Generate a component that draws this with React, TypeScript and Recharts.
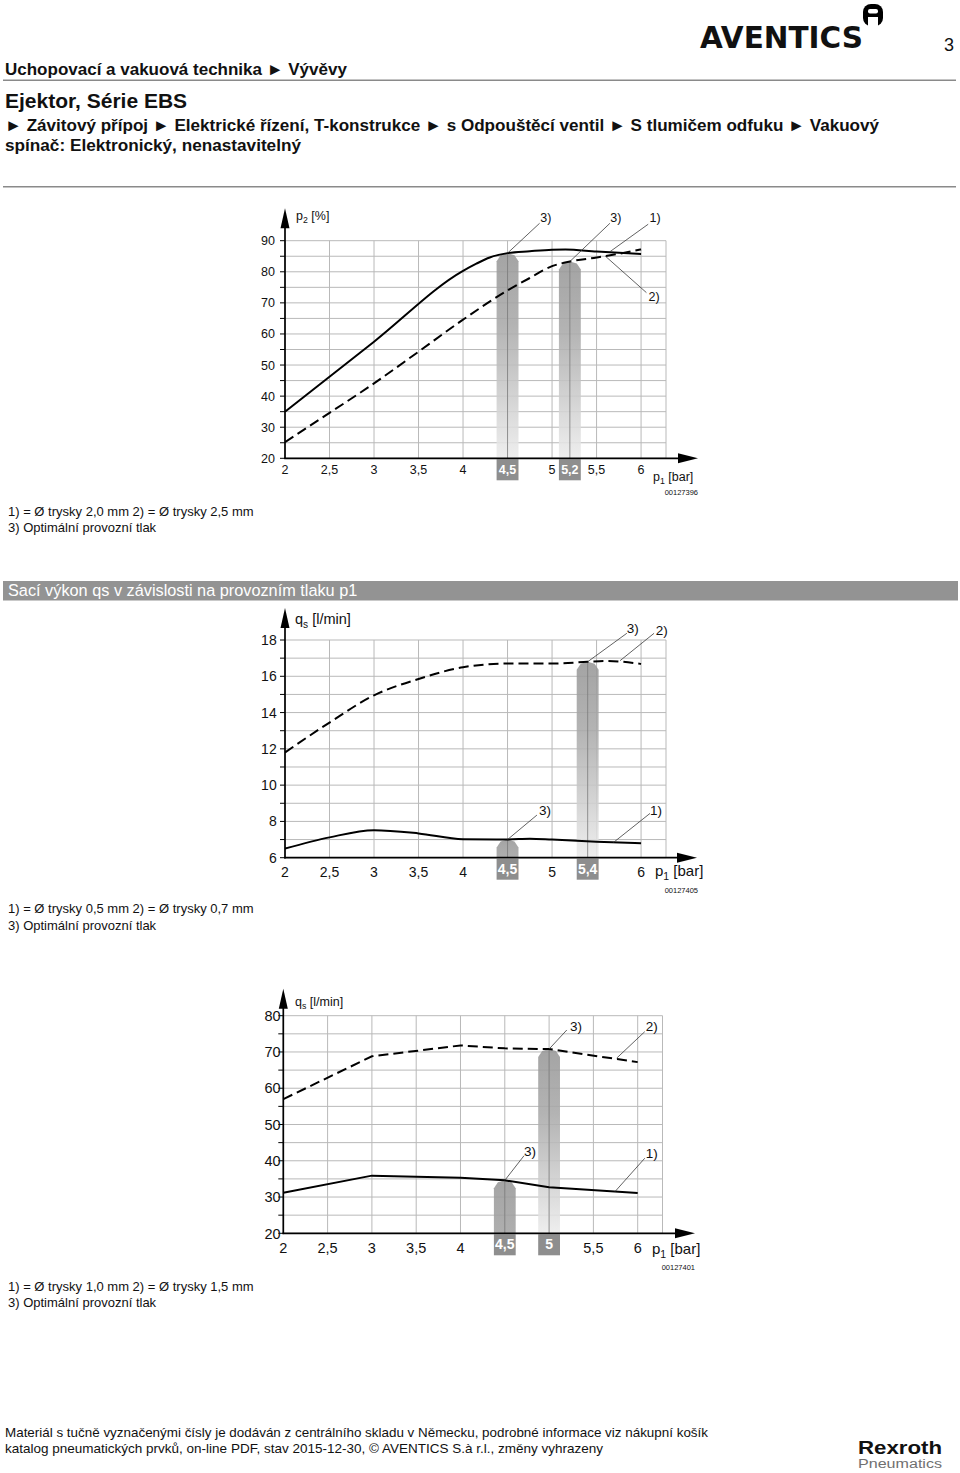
import React from 'react';
import { ComposedChart, Line, XAxis, YAxis, CartesianGrid, ReferenceLine, ReferenceArea, ReferenceDot } from 'recharts';

const FONT = "'Liberation Sans', Arial, Helvetica, sans-serif";

// ---------- Chart 1: p2 [%] vs p1 [bar] ----------
const c1XTicks = [2, 2.5, 3, 3.5, 4, 4.5, 5, 5.5, 6, 6.28];
const c1YTicks = [20, 25, 30, 35, 40, 45, 50, 55, 60, 65, 70, 75, 80, 85, 90];
const c1SolidX = [2, 3, 4, 4.15, 4.3, 4.5, 4.75, 5, 5.15, 5.5, 6];
const c1SolidY = [35, 57.5, 80.3, 82.6, 84.6, 86.0, 86.6, 87.1, 87.2, 86.5, 85.7];
const c1DashX = [2, 2.5, 3, 3.5, 4, 4.5, 4.75, 5, 5.2, 5.5, 5.75, 6];
const c1DashY = [25.2, 34.6, 44.1, 54.3, 64.6, 74, 78, 81.8, 83.3, 84.6, 85.8, 87.2];
const c1OptX = [4.5, 5.2];
const c1OptY = [86, 83.3];
const c1OptLabels = ['4,5', '5,2'];
const c1CallText = ['3)', '3)', '1)', '2)'];
const c1CallTX = [4.93, 5.716, 6.157, 6.146];
const c1CallTY = [97.3, 97.3, 97.3, 71.9];
const c1CallFX = [4.86, 5.65, 6.08, 6.06];
const c1CallFY = [95.6, 95.6, 95.3, 73.3];
const c1CallEX = [4.5, 5.2, 5.652, 5.596];
const c1CallEY = [86, 83.3, 86.5, 85.1];

// ---------- Chart 2: qs [l/min], nozzles 0,5 / 0,7 mm ----------
const c2XTicks = [2, 2.5, 3, 3.5, 4, 4.5, 5, 5.5, 6, 6.28];
const c2YTicks = [6, 7, 8, 9, 10, 11, 12, 13, 14, 15, 16, 17, 18];
const c2SolidX = [2, 2.5, 3, 3.5, 4, 4.5, 4.75, 5, 5.5, 6];
const c2SolidY = [6.5, 7.12, 7.52, 7.34, 7.02, 7.0, 7.05, 7.0, 6.88, 6.8];
const c2DashX = [2, 2.5, 3, 3.5, 4, 4.5, 5, 5.4, 5.6, 6];
const c2DashY = [11.8, 13.45, 14.95, 15.85, 16.5, 16.7, 16.7, 16.8, 16.85, 16.68];
const c2OptX = [4.5, 5.4];
const c2OptY = [7.0, 16.8];
const c2OptLabels = ['4,5', '5,4'];
const c2CallText = ['3)', '2)', '3)', '1)'];
const c2CallTX = [5.907, 6.233, 4.92, 6.168];
const c2CallTY = [18.66, 18.55, 8.58, 8.58];
const c2CallFX = [5.84, 6.146, 4.83, 6.1];
const c2CallFY = [18.37, 18.37, 8.35, 8.44];
const c2CallEX = [5.4, 5.764, 4.5, 5.69];
const c2CallEY = [16.8, 16.86, 7.0, 6.84];

// ---------- Chart 3: qs [l/min], nozzles 1,0 / 1,5 mm ----------
const c3XTicks = [2, 2.5, 3, 3.5, 4, 4.5, 5, 5.5, 6, 6.28];
const c3YTicks = [20, 25, 30, 35, 40, 45, 50, 55, 60, 65, 70, 75, 80];
const c3SolidX = [2, 3, 4, 4.5, 5, 6];
const c3SolidY = [31.2, 35.9, 35.3, 34.6, 32.7, 31.1];
const c3DashX = [2, 3, 4, 4.5, 5, 6];
const c3DashY = [57, 68.8, 71.8, 71.0, 70.8, 67.2];
const c3OptX = [4.5, 5];
const c3OptY = [34.6, 70.8];
const c3OptLabels = ['4,5', '5'];
const c3CallText = ['3)', '2)', '3)', '1)'];
const c3CallTX = [5.304, 6.158, 4.784, 6.158];
const c3CallTY = [76.97, 76.97, 42.5, 42.06];
const c3CallFX = [5.2, 6.08, 4.717, 6.08];
const c3CallFY = [76.06, 75.6, 41.4, 40.7];
const c3CallEX = [5, 5.763, 4.5, 5.744];
const c3CallEY = [70.8, 68.3, 34.6, 31.5];

type Pt = { p1: number; v: number };
const zip = (xs: number[], ys: number[]): Pt[] => xs.map((p1, i) => ({ p1, v: ys[i] }));

const fmt = (v: number) => String(v).replace('.', ',');

const makeXTick = (hidden: number[], fs: number, dy: number) => (p: any) => {
  const v = p.payload.value;
  if (hidden.some((h) => Math.abs(h - v) < 1e-6)) return <g />;
  return (
    <text x={p.x} y={p.y + dy} textAnchor="middle" fontSize={fs} fontFamily={FONT} fill="#111">
      {fmt(v)}
    </text>
  );
};

const makeYTick = (step: number, fs: number, gap: number) => (p: any) => {
  const v = p.payload.value;
  if (Math.abs(v % step) > 1e-6) return <g />;
  return (
    <text x={p.x - gap} y={p.y} dy="0.36em" textAnchor="end" fontSize={fs} fontFamily={FONT} fill="#111">
      {v}
    </text>
  );
};

const makeColumn = (label: string, gid: string, fs: number) => (p: any) => {
  const { x, y, width, height } = p;
  const cx = x + width / 2;
  const tall = height > 80;
  const d = `M${x},${y + 8} L${x + 4},${y + 2} L${cx},${y} L${x + width - 4},${y + 2} L${x + width},${y + 8} L${x + width},${y + height} L${x},${y + height} Z`;
  return (
    <g>
      <defs>
        <linearGradient id={gid} x1="0" y1="0" x2="0" y2="1">
          <stop offset="0" stopColor="#979797" />
          <stop offset="0.35" stopColor={tall ? '#a9a9a9' : '#9c9c9c'} />
          <stop offset="1" stopColor={tall ? '#ececec' : '#a3a3a3'} />
        </linearGradient>
      </defs>
      <path d={d} fill={`url(#${gid})`} fillOpacity={0.88} />
      <line x1={cx} y1={y} x2={cx} y2={y + height} stroke="#7c7c7c" strokeWidth={0.8} />
      <rect x={x} y={y + height + 1} width={width} height={21} fill="#8e8e8e" />
      <text x={cx} y={y + height + 16} textAnchor="middle" fill="#fff" fontWeight="bold" fontSize={fs} fontFamily={FONT}>
        {label}
      </text>
    </g>
  );
};

const makeText = (t: string, fs: number) => (p: any) => (
  <text x={p.cx} y={p.cy} textAnchor="middle" dominantBaseline="central" fontSize={fs} fontFamily={FONT} fill="#111">
    {t}
  </text>
);

const makeYArrow = (ext: number) => (p: any) => {
  const x = p.x1;
  const bottom = Math.max(p.y1, p.y2);
  const top = Math.min(p.y1, p.y2) - ext;
  return (
    <g>
      <line x1={x} y1={bottom + 0.8} x2={x} y2={top + 12} stroke="#000" strokeWidth={1.7} />
      <polygon points={`${x},${top} ${x - 4.5},${top + 20} ${x + 4.5},${top + 20}`} fill="#000" />
    </g>
  );
};

const makeXArrow = (ext: number) => (p: any) => {
  const y = p.y1;
  const left = Math.min(p.x1, p.x2);
  const right = Math.max(p.x1, p.x2) + ext;
  return (
    <g>
      <line x1={left - 0.8} y1={y} x2={right - 12} y2={y} stroke="#000" strokeWidth={1.7} />
      <polygon points={`${right},${y} ${right - 20},${y - 5} ${right - 20},${y + 5}`} fill="#000" />
    </g>
  );
};

interface ChartCfg {
  id: string;
  left: number;
  top: number;
  width: number;
  height: number;
  margin: { top: number; right: number; bottom: number; left: number };
  yAxisWidth: number;
  xAxisHeight: number;
  xMax: number;
  xTicks: number[];
  hiddenX: number[];
  yMin: number;
  yMax: number;
  yTicks: number[];
  yStep: number;
  solid: Pt[];
  dashed: Pt[];
  curve: 'monotone' | 'linear';
  optX: number[];
  optY: number[];
  optLabels: string[];
  colHalf: number;
  callText: string[];
  callTX: number[];
  callTY: number[];
  callFX: number[];
  callFY: number[];
  callEX: number[];
  callEY: number[];
  tickFont: number;
  yLabelGap: number;
  xLabelDy: number;
  boxFont: number;
  callFont: number;
  yArrowExt: number;
  xArrowExt: number;
}

function PerfChart(c: ChartCfg) {
  return (
    <div style={{ position: 'absolute', left: c.left, top: c.top, width: c.width, height: c.height }}>
      <ComposedChart width={c.width} height={c.height} margin={c.margin}>
        <CartesianGrid stroke="#b9b9b9" strokeWidth={1} />
        <XAxis
          type="number"
          dataKey="p1"
          domain={[2, c.xMax]}
          ticks={c.xTicks}
          interval={0}
          allowDataOverflow
          axisLine={false}
          tickLine={false}
          tickSize={0}
          tickMargin={0}
          height={c.xAxisHeight}
          tick={makeXTick(c.hiddenX, c.tickFont, c.xLabelDy)}
        />
        <YAxis
          type="number"
          domain={[c.yMin, c.yMax]}
          ticks={c.yTicks}
          interval={0}
          allowDataOverflow
          width={c.yAxisWidth}
          axisLine={false}
          tickLine={{ stroke: '#000', strokeWidth: 1 }}
          tickSize={5}
          tickMargin={0}
          tick={makeYTick(c.yStep, c.tickFont, c.yLabelGap)}
        />
        {c.optX.map((ox, i) => (
          <ReferenceArea
            key={`col${i}`}
            x1={ox - c.colHalf}
            x2={ox + c.colHalf}
            y1={c.yMin}
            y2={c.optY[i]}
            ifOverflow="visible"
            shape={makeColumn(c.optLabels[i], `${c.id}-col-${i}`, c.boxFont)}
          />
        ))}
        <Line
          data={c.dashed}
          dataKey="v"
          type={c.curve}
          stroke="#000"
          strokeWidth={2}
          strokeDasharray="10 5"
          dot={false}
          activeDot={false}
          isAnimationActive={false}
        />
        <Line
          data={c.solid}
          dataKey="v"
          type={c.curve}
          stroke="#000"
          strokeWidth={2}
          dot={false}
          activeDot={false}
          isAnimationActive={false}
        />
        {c.callText.map((t, i) => (
          <ReferenceLine
            key={`cl${i}`}
            segment={[
              { x: c.callFX[i], y: c.callFY[i] },
              { x: c.callEX[i], y: c.callEY[i] },
            ]}
            stroke="#3a3a3a"
            strokeWidth={0.8}
            ifOverflow="visible"
          />
        ))}
        {c.callText.map((t, i) => (
          <ReferenceDot
            key={`ct${i}`}
            x={c.callTX[i]}
            y={c.callTY[i]}
            r={1}
            ifOverflow="visible"
            shape={makeText(t, c.callFont)}
          />
        ))}
        <ReferenceLine
          segment={[
            { x: 2, y: c.yMin },
            { x: 2, y: c.yMax },
          ]}
          ifOverflow="visible"
          shape={makeYArrow(c.yArrowExt)}
        />
        <ReferenceLine
          segment={[
            { x: 2, y: c.yMin },
            { x: c.xMax, y: c.yMin },
          ]}
          ifOverflow="visible"
          shape={makeXArrow(c.xArrowExt)}
        />
      </ComposedChart>
    </div>
  );
}

const chart1: ChartCfg = {
  id: 'c1', left: 240, top: 195, width: 480, height: 310,
  margin: { top: 45.7, right: 54, bottom: 16.7, left: 5 },
  yAxisWidth: 40, xAxisHeight: 30, xMax: 6.28, xTicks: c1XTicks, hiddenX: [4.5, 6.28],
  yMin: 20, yMax: 90, yTicks: c1YTicks, yStep: 10,
  solid: zip(c1SolidX, c1SolidY), dashed: zip(c1DashX, c1DashY), curve: 'monotone',
  optX: c1OptX, optY: c1OptY, optLabels: c1OptLabels, colHalf: 0.123,
  callText: c1CallText, callTX: c1CallTX, callTY: c1CallTY, callFX: c1CallFX, callFY: c1CallFY, callEX: c1CallEX, callEY: c1CallEY,
  tickFont: 12.5, yLabelGap: 5, xLabelDy: 15.5, boxFont: 12.5, callFont: 12.5, yArrowExt: 32.5, xArrowExt: 32,
};

const chart2: ChartCfg = {
  id: 'c2', left: 240, top: 600, width: 480, height: 300,
  margin: { top: 40, right: 54, bottom: 12.3, left: 5 },
  yAxisWidth: 40, xAxisHeight: 30, xMax: 6.28, xTicks: c2XTicks, hiddenX: [4.5, 5.5, 6.28],
  yMin: 6, yMax: 18, yTicks: c2YTicks, yStep: 2,
  solid: zip(c2SolidX, c2SolidY), dashed: zip(c2DashX, c2DashY), curve: 'monotone',
  optX: c2OptX, optY: c2OptY, optLabels: c2OptLabels, colHalf: 0.123,
  callText: c2CallText, callTX: c2CallTX, callTY: c2CallTY, callFX: c2CallFX, callFY: c2CallFY, callEX: c2CallEX, callEY: c2CallEY,
  tickFont: 14, yLabelGap: 3.3, xLabelDy: 18.8, boxFont: 14, callFont: 13.5, yArrowExt: 32, xArrowExt: 31,
};

const chart3: ChartCfg = {
  id: 'c3', left: 238, top: 975, width: 480, height: 300,
  margin: { top: 40.7, right: 55.5, bottom: 11.7, left: 5.3 },
  yAxisWidth: 40, xAxisHeight: 30, xMax: 6.28, xTicks: c3XTicks, hiddenX: [4.5, 5, 6.28],
  yMin: 20, yMax: 80, yTicks: c3YTicks, yStep: 10,
  solid: zip(c3SolidX, c3SolidY), dashed: zip(c3DashX, c3DashY), curve: 'linear',
  optX: c3OptX, optY: c3OptY, optLabels: c3OptLabels, colHalf: 0.123,
  callText: c3CallText, callTX: c3CallTX, callTY: c3CallTY, callFX: c3CallFX, callFY: c3CallFY, callEX: c3CallEX, callEY: c3CallEY,
  tickFont: 14.5, yLabelGap: -2.4, xLabelDy: 19.5, boxFont: 14, callFont: 13.5, yArrowExt: 27, xArrowExt: 32.5,
};

const T = (p: { x: number; y: number; size: number; bold?: boolean; fill?: string; anchor?: 'start' | 'end' | 'middle'; family?: string; len?: number; children: React.ReactNode }) => (
  <text
    x={p.x}
    y={p.y}
    fontSize={p.size}
    fontWeight={p.bold ? 'bold' : 'normal'}
    fill={p.fill || '#111'}
    textAnchor={p.anchor || 'start'}
    fontFamily={p.family || FONT}
    textLength={p.len}
    lengthAdjust={p.len ? 'spacingAndGlyphs' : undefined}
  >
    {p.children}
  </text>
);

function AxisTitle(p: { x: number; y: number; size: number; sym: string; sub: string; unit: string }) {
  return (
    <text x={p.x} y={p.y} fontSize={p.size} fontFamily={FONT} fill="#111">
      {p.sym}
      <tspan fontSize={p.size * 0.7} dy={p.size * 0.25}>{p.sub}</tspan>
      <tspan dy={-p.size * 0.25}>{' ' + p.unit}</tspan>
    </text>
  );
}

function Overlay() {
  return (
    <svg width={960} height={1473} style={{ position: 'absolute', left: 0, top: 0, pointerEvents: 'none' }}>
      {/* header */}
      <T x={700} y={48} size={30} bold family="'DejaVu Sans', sans-serif" len={163}>AVENTICS</T>
      <g>
        <rect x={863} y={4} width={20} height={22} rx={8} fill="#000" />
        <rect x={868} y={9} width={10} height={4.5} rx={2} fill="#fff" />
        <rect x={868} y={17} width={10} height={9} fill="#fff" />
      </g>
      <T x={954} y={51} size={18} anchor="end">3</T>
      <T x={5} y={75} size={17} bold>Uchopovací a vakuová technika ► Vývěvy</T>
      <rect x={3} y={79.5} width={953} height={1.5} fill="#8a8a8a" />
      <T x={5} y={108} size={21} bold>Ejektor, Série EBS</T>
      <T x={5} y={131} size={16.5} bold len={874}>► Závitový přípoj ► Elektrické řízení, T-konstrukce ► s Odpouštěcí ventil ► S tlumičem odfuku ► Vakuový</T>
      <T x={5} y={151} size={16.5} bold len={296}>spínač: Elektronický, nenastavitelný</T>
      <rect x={3} y={186} width={953} height={1.5} fill="#8a8a8a" />

      {/* chart 1 titles */}
      <AxisTitle x={296} y={219.5} size={12.5} sym="p" sub="2" unit="[%]" />
      <AxisTitle x={653} y={481} size={12.5} sym="p" sub="1" unit="[bar]" />
      <T x={698} y={495} size={7.5} anchor="end">00127396</T>
      <T x={8} y={516} size={13}>1) = Ø trysky 2,0 mm  2) = Ø trysky 2,5 mm</T>
      <T x={8} y={532} size={13}>3) Optimální provozní tlak</T>

      {/* section bar */}
      <rect x={3} y={581} width={955} height={19.5} fill="#939393" />
      <T x={8} y={596} size={16.3} fill="#fff">Sací výkon qs v závislosti na provozním tlaku p1</T>

      {/* chart 2 titles */}
      <AxisTitle x={295} y={624} size={14.5} sym="q" sub="s" unit="[l/min]" />
      <AxisTitle x={655} y={876} size={15} sym="p" sub="1" unit="[bar]" />
      <T x={698} y={893} size={7.5} anchor="end">00127405</T>
      <T x={8} y={913} size={13}>1) = Ø trysky 0,5 mm  2) = Ø trysky 0,7 mm</T>
      <T x={8} y={930} size={13}>3) Optimální provozní tlak</T>

      {/* chart 3 titles */}
      <AxisTitle x={295} y={1006} size={12.5} sym="q" sub="s" unit="[l/min]" />
      <AxisTitle x={652} y={1254} size={15} sym="p" sub="1" unit="[bar]" />
      <T x={695} y={1270} size={7.5} anchor="end">00127401</T>
      <T x={8} y={1291} size={13}>1) = Ø trysky 1,0 mm  2) = Ø trysky 1,5 mm</T>
      <T x={8} y={1307} size={13}>3) Optimální provozní tlak</T>

      {/* footer */}
      <T x={5} y={1437} size={13} len={703}>Materiál s tučně vyznačenými čísly je dodáván z centrálního skladu v Německu, podrobné informace viz nákupní košík</T>
      <T x={5} y={1453} size={13} len={598}>katalog pneumatických prvků, on-line PDF, stav 2015-12-30, © AVENTICS S.à r.l., změny vyhrazeny</T>
      <T x={858} y={1454} size={19} bold len={84}>Rexroth</T>
      <T x={858} y={1468} size={12.5} fill="#707070" len={84}>Pneumatics</T>
    </svg>
  );
}

export default function App() {
  return (
    <div style={{ position: 'absolute', left: 0, top: 0, width: 960, height: 1473, background: '#fff', overflow: 'hidden', fontFamily: FONT }}>
      <PerfChart {...chart1} />
      <PerfChart {...chart2} />
      <PerfChart {...chart3} />
      <Overlay />
    </div>
  );
}
